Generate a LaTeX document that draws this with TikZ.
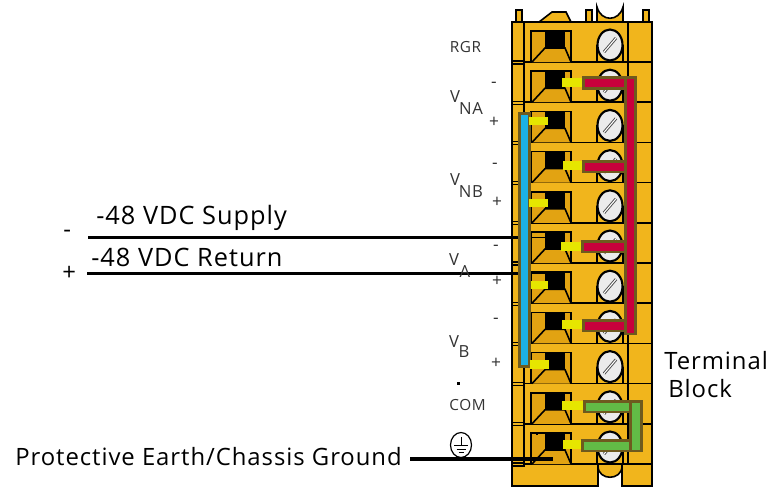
\documentclass[tikz,border=0pt]{standalone}
\usepackage{fontspec}
\setsansfont{Open Sans}[LetterSpace=4]
\usepackage{xcolor}
\usetikzlibrary{calc, positioning, shapes.geometric}
\definecolor{blockorange}{HTML}{F1B51C}
\definecolor{cellorange}{HTML}{E2A312}
\definecolor{jumperbrown}{HTML}{6E5A1E}
\definecolor{jumperred}{HTML}{C8003C}
\definecolor{jumperblue}{HTML}{1BB1E6}
\definecolor{jumpergreen}{HTML}{62BB46}
\definecolor{tipyellow}{HTML}{E6E600}
\definecolor{labelgray}{HTML}{333333}
\tikzset{
    outline/.style={draw=black, line width=1.2pt},
    wire/.style={draw=black, line width=2.3pt},
    thinwire/.style={draw=black, line width=0.8pt},
    jumper/.style={draw=jumperbrown, line width=2pt},
    tip/.style={fill=tipyellow},
    biglabel/.style={anchor=west, inner sep=0pt, text=black, font=\sffamily\fontsize{17.9}{20}\selectfont},
    widelabel/.style={anchor=west, inner sep=0pt, text=black, font=\sffamily\fontsize{19}{22}\selectfont},
    smalllabel/.style={inner sep=0pt, text=labelgray, font=\sffamily\fontsize{11.5}{13}\selectfont},
    signlabel/.style={inner sep=0pt, text=labelgray, font=\sffamily\fontsize{13}{15}\selectfont},
    sublabel/.style={inner sep=0pt, text=labelgray, font=\sffamily\fontsize{12.5}{14}\selectfont},
}
\begin{document}
\begin{tikzpicture}[x=0.75pt, y=-0.75pt]
    \useasboundingbox (0, 0) rectangle (771, 487);

    % pins on top of the block
    \draw[outline, fill=blockorange]
    (516, 22) -- (516, 10) -- (522, 10) -- (522, 22)
    (539, 22) -- (552, 12) -- (566, 12) -- (571, 22)
    (586, 22) -- (586, 10) -- (592, 10) -- (592, 22)
    (643, 22) -- (643, 10) -- (649, 10) -- (649, 22)
    (597, 22) -- (597, 7) .. controls (601, 22) and (619, 22) .. (623, 7) -- (623, 22);

    % block body
    \draw[outline, fill=blockorange]
    (512, 22) -- (652, 22) -- (652, 486) -- (622, 486) -- (622, 464)
    -- (598, 464) -- (598, 486) -- (512, 486) -- cycle;
    \draw[outline, fill=blockorange]
    (598, 464) -- (598, 466) .. controls (598, 481) and (622, 481) .. (622, 466) -- (622, 464);
    \draw[outline]
    (524, 22) -- (524, 464)
    (628, 22) -- (628, 464)
    (512, 464) -- (652, 464);

    \foreach \i in {0,...,10} {
        % row line and the marks on the left strip
        \draw[outline] (524, 62 + 40.2*\i) -- (652, 62 + 40.2*\i);
        \draw[draw=black, line width=0.8pt, fill=blockorange]
        (512, 61 + 40.2*\i) rectangle (524, 64 + 40.2*\i);

        % wire entry
        \draw[outline, fill=cellorange]
        (531, 31 + 40.2*\i) rectangle (571, 62 + 40.2*\i);
        \fill[black] (545, 31 + 40.2*\i) rectangle (565, 48 + 40.2*\i);
        \draw[outline, fill=cellorange]
        (532, 62 + 40.2*\i) -- (545, 48 + 40.2*\i) -- (565, 48 + 40.2*\i) -- (571, 62 + 40.2*\i);

        % screw
        \draw[outline] (597, 45 + 40.2*\i) -- (597, 62 + 40.2*\i)
        (623, 45 + 40.2*\i) -- (623, 62 + 40.2*\i);
        \draw[draw=black, line width=1.6pt, fill=white!92!black]
        (610, 45 + 40.2*\i) ellipse (12.5 and 15.5);
        \draw[draw=black!70, line width=2.2pt] (604, 52 + 40.2*\i) -- (616, 38 + 40.2*\i);
        \draw[draw=white, line width=0.8pt] (604, 52 + 40.2*\i) -- (616, 38 + 40.2*\i);
    }

    % field wires
    \coordinate (supplyl) at (88, 237.5);
    \coordinate (supplyr) at (518, 237.5);
    \coordinate (supplyin) at (545, 237.5);
    \coordinate (returnl) at (87, 273.5);
    \coordinate (returnr) at (518, 273.5);
    \coordinate (returnin) at (545, 273.5);
    \coordinate (earthl) at (410, 459);
    \coordinate (earthr) at (553, 459);
    \draw[wire] (supplyl) -- (supplyr);
    \draw[wire, line width=1.9pt] (returnl) -- (returnr);
    \draw[thinwire] (supplyr) -- (supplyin);
    \draw[thinwire] (returnr) -- (returnin);

    % red jumper
    \draw[jumper, fill=jumperred] (625.5, 77.5) rectangle (635.5, 334);
    \draw[jumper, fill=jumperred] (583.5, 77.5) rectangle (625.5, 88.5);
    \draw[jumper, fill=jumperred] (583.5, 161.5) rectangle (625.5, 172);
    \draw[jumper, fill=jumperred] (582.5, 241.5) rectangle (625.5, 252);
    \draw[jumper, fill=jumperred] (583.5, 320.5) rectangle (625.5, 331);
    \fill[tip] (562, 78) rectangle (582, 87);
    \fill[tip] (563, 161) rectangle (582, 170);
    \fill[tip] (561, 242) rectangle (581, 251);
    \fill[tip] (562, 320) rectangle (582, 329);

    % blue jumper
    \draw[jumper, fill=jumperblue] (519.5, 113.5) rectangle (529.5, 366.5);
    \fill[tip] (529, 117) rectangle (548, 125);
    \fill[tip] (529, 199) rectangle (548, 207);
    \fill[tip] (531, 281) rectangle (548, 289);
    \fill[tip] (530, 360) rectangle (549, 369);

    % green jumper
    \draw[jumper, fill=jumpergreen] (584.5, 401.5) rectangle (630.5, 412);
    \draw[jumper, fill=jumpergreen] (582.5, 440.5) rectangle (630.5, 451);
    \draw[jumper, fill=jumpergreen] (630.5, 401.5) rectangle (641.5, 451);
    \fill[tip] (562, 401) rectangle (583, 410);
    \fill[tip] (563, 440) rectangle (581, 449);

    % earth wire and symbol
    \node[draw=black, line width=0.9pt, fill=white, ellipse, minimum width=15.75pt, minimum height=18.75pt, inner sep=0pt] (gnd) at (461, 445) {};
    \draw[line width=0.7pt] (gnd.north) ++(0, 5) coordinate (gndtop) -- ++(0, 9) coordinate (gndbar);
    \draw[line width=0.7pt]
    ($(gndbar) + (-7, 0)$) -- ($(gndbar) + (7, 0)$)
    ($(gndbar) + (-4.5, 3.5)$) -- ($(gndbar) + (4.5, 3.5)$)
    ($(gndbar) + (-2.5, 7)$) -- ($(gndbar) + (2.5, 7)$);
    \draw[wire] (earthl) -- (earthr);
    \fill[black] (457, 382) rectangle (460, 385);
    \fill[black] (536, 433) rectangle (538, 435);

    % labels
    \node[widelabel] (supply) at (96, 218) {-48 VDC Supply};
    \node[widelabel] (return) at (91, 257) {-48 VDC Return};
    \node[biglabel] (minus) at (63, 234) {-};
    \node[biglabel] (plus) at (62, 273) {+};
    \node[biglabel] (earth) at (15, 457) {Protective Earth/Chassis Ground};
    \node[biglabel] (term) at (664, 361) {Terminal};
    \node[biglabel] (blk) at (668, 389) {Block};

    \node[smalllabel] (rgr) at (465.5, 47) {RGR};
    \node[smalllabel] (com) at (467.5, 405) {COM};
    \node[sublabel] (va) at (455, 97) {V};
    \node[sublabel] (vaa) at (471, 109) {NA};
    \node[sublabel] (vb) at (455, 180) {V};
    \node[sublabel] (vbb) at (471, 192) {NB};
    \node[sublabel] (vc) at (454, 260) {V};
    \node[sublabel] (vcc) at (465, 272) {A};
    \node[sublabel] (vd) at (454, 342) {V};
    \node[sublabel] (vdd) at (464, 352) {B};

    \node[signlabel] (m1) at (494, 85) {-};
    \node[signlabel] (p1) at (494, 122) {+};
    \node[signlabel] (m2) at (495, 166) {-};
    \node[signlabel] (p2) at (497, 202) {+};
    \node[signlabel] (m3) at (496, 248) {-};
    \node[signlabel] (p3) at (497, 281) {+};
    \node[signlabel] (m4) at (496, 321) {-};
    \node[signlabel] (p4) at (496, 363) {+};
\end{tikzpicture}
\end{document}
